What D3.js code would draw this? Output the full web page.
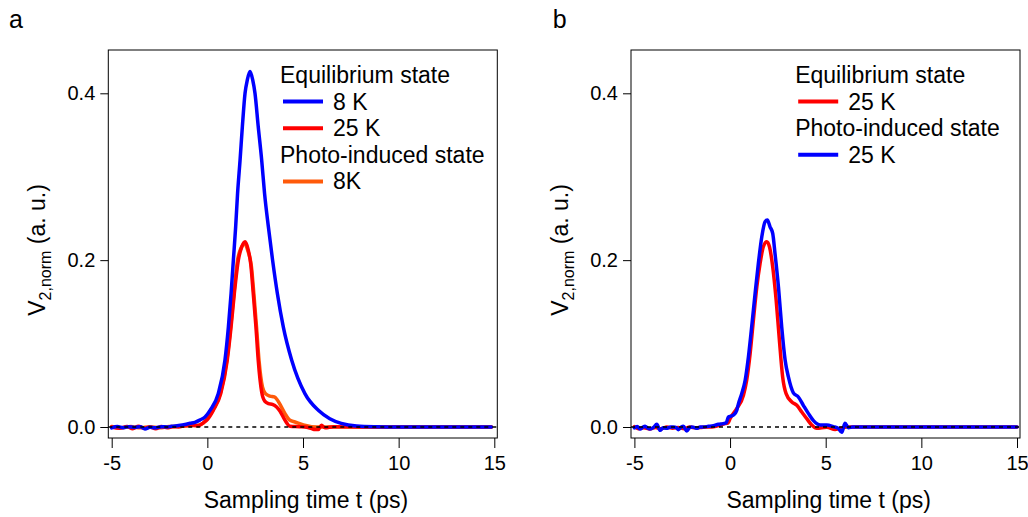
<!DOCTYPE html>
<meta charset="utf-8">
<style>
  body { margin: 0; background: #fff; }
  text { font-family: "Liberation Sans", Arial, sans-serif; fill: #000; }
  .frame { fill: none; stroke: #000; stroke-width: 1px; }
  .axis path { display: none; }
  .axis line { stroke: #000; stroke-width: 1px; }
  .axis text { font-size: 20px; font-family: "Liberation Sans", Arial, sans-serif; }
  .curve { fill: none; stroke-width: 3.5px; stroke-linejoin: round; stroke-linecap: round; }
  .zero { stroke: #000; stroke-width: 1.5px; stroke-dasharray: 4,4; }
</style>
<script src="https://d3js.org/d3.v7.min.js"></script>
<div id="chart"></div>
<script>

// tick values
var xTicks = [-5, 0, 5, 10, 15];
var yTicks = [0, 0.2, 0.4];

// panel a : [time (ps), V2,norm]
var aEq8K = [[-5,-0.001],[-4.7,0.0005],[-4.4,-0.0008],[-4.1,0.0004],[-3.8,-0.0005],[-3.5,0.0003],[-3.26,-0.0024],[-3.0,-0.0004],
  [-2.74,-0.001],[-2.4,0.0004],[-2.1,0],[-1.87,0.0008],[-1.5,0.0018],[-1.17,0.003],[-0.9,0.0044],[-0.65,0.0056],[-0.38,0.0085],
  [-0.12,0.012],[0.14,0.020],[0.57,0.040],[0.92,0.080],[1.10,0.120],[1.24,0.160],[1.36,0.200],[1.48,0.240],[1.58,0.280],
  [1.71,0.320],[1.83,0.360],[1.97,0.400],[2.09,0.416],[2.23,0.426],[2.37,0.416],[2.49,0.400],[2.66,0.360],[2.84,0.320],
  [2.99,0.280],[3.19,0.240],[3.41,0.200],[3.66,0.160],[3.97,0.120],[4.41,0.080],[5.10,0.040],[5.80,0.020],[6.4,0.0100],
  [7.0,0.0044],[7.8,0.0012],[8.8,0.0003],[10,0],[12,0],[14.85,0]];

var aEq25K = [[-5,0],[-4.6,-0.0015],[-4.2,0.0005],[-3.9,-0.002],[-3.6,0.0008],[-3.3,-0.0015],[-3.0,0],[-2.7,-0.002],[-2.4,0.0005],
  [-2.1,-0.001],[-1.8,0.0003],[-1.5,0],[-1.2,0.0015],[-0.8,0.002],[-0.47,0.0015],[-0.21,0.005],[0.0,0.009],[0.31,0.020],[0.70,0.040],
  [1.04,0.080],[1.24,0.120],[1.41,0.160],[1.62,0.200],[1.80,0.216],[1.97,0.222],[2.13,0.213],[2.27,0.195],[2.40,0.160],[2.54,0.120],
  [2.66,0.080],[2.84,0.042],[3.0,0.031],[3.20,0.028],[3.40,0.027],[3.62,0.024],[3.80,0.019],[4.06,0.008],[4.32,0.001],[4.84,0.0004],
  [5.19,-0.0004],[5.45,-0.002],[5.63,-0.003],[5.80,-0.003],[5.97,0.002],[6.15,-0.001],[6.6,0.0003],[8,0],[14.85,0]];

var aPhoto8K = [[-5,0.0005],[-4.5,-0.001],[-4.0,0.0005],[-3.5,-0.001],[-3.0,0.0003],[-2.5,-0.001],[-2.0,0.0005],[-1.5,0.0008],
  [-1.0,0.0015],[-0.5,0.002],[-0.2,0.005],[0.0,0.010],[0.31,0.021],[0.70,0.042],[1.02,0.080],[1.22,0.120],[1.39,0.160],[1.58,0.200],
  [1.75,0.214],[1.93,0.219],[2.12,0.211],[2.30,0.193],[2.43,0.160],[2.57,0.120],[2.70,0.080],[2.88,0.048],[3.04,0.040],[3.27,0.037],
  [3.50,0.036],[3.64,0.033],[3.80,0.027],[4.06,0.016],[4.32,0.008],[4.58,0.006],[5.02,0.0024],[5.45,0.0004],[6,0],[14.85,0]];

// panel b
var bEq25K = [[-5,0.0005],[-4.8,-0.002],[-4.5,-0.001],[-4.2,-0.0025],[-3.9,-0.0005],[-3.6,-0.002],[-3.3,0],[-3.0,-0.0015],
  [-2.7,-0.0005],[-2.4,-0.002],[-2.1,0],[-1.8,-0.001],[-1.5,-0.0005],[-1.2,0],[-0.87,0.0004],[-0.6,0.0016],[-0.35,0.0036],
  [-0.1,0.005],[0.0,0.010],[0.35,0.022],[0.70,0.038],[0.87,0.056],[1.05,0.088],[1.22,0.128],[1.40,0.168],[1.57,0.196],[1.74,0.216],
  [1.92,0.222],[2.06,0.216],[2.23,0.192],[2.41,0.152],[2.58,0.104],[2.75,0.060],[2.93,0.040],[3.23,0.030],[3.49,0.026],[3.75,0.018],
  [4.01,0.010],[4.27,0.0024],[4.53,-0.0016],[5.06,-0.0004],[5.49,-0.003],[5.75,-0.0016],[6.1,0],[15,0]];

var bPhoto25K = [[-5,-0.001],[-4.85,0.0005],[-4.7,-0.0024],[-4.55,0],[-4.44,0.0008],[-4.3,-0.0015],[-4.18,-0.0024],[-4.0,-0.0005],
  [-3.83,0.0032],[-3.66,-0.004],[-3.5,-0.001],[-3.31,-0.0016],[-3.1,0],[-2.96,0],[-2.8,-0.001],[-2.7,-0.0032],[-2.55,0],[-2.44,0.0008],
  [-2.26,-0.0048],[-2.1,-0.0005],[-2.0,0],[-1.85,-0.0008],[-1.74,-0.0016],[-1.55,0],[-1.39,0],[-1.13,0.0008],[-0.87,0.0016],
  [-0.61,0.0032],[-0.35,0.004],[-0.2,0.005],[-0.085,0.012],[0.05,0.013],[0.18,0.0144],[0.35,0.020],[0.44,0.028],[0.61,0.040],
  [0.79,0.056],[0.96,0.084],[1.13,0.120],[1.31,0.160],[1.48,0.196],[1.66,0.228],[1.83,0.246],[1.95,0.248],[2.09,0.240],[2.23,0.232],
  [2.35,0.208],[2.53,0.168],[2.70,0.120],[2.88,0.080],[3.05,0.060],[3.31,0.041],[3.57,0.036],[3.83,0.026],[4.10,0.016],[4.36,0.0076],
  [4.71,0.0024],[5.06,0.0024],[5.40,0.0004],[5.66,-0.0016],[5.84,-0.0064],[6.01,0.0044],[6.19,-0.0008],[6.4,0],[15,0]];

var blue = "#0000ff", red = "#ff0000", orange = "#ff5a0a";

var panels = [
  { letter: "a", dx: 0,
    series: [ { data: aPhoto8K, color: orange }, { data: aEq25K, color: red }, { data: aEq8K, color: blue } ],
    legend: [ { text: "Equilibrium state" }, { text: "8 K", color: blue }, { text: "25 K", color: red },
              { text: "Photo-induced state" }, { text: "8K", color: orange } ],
    legendX: 280 },
  { letter: "b", dx: 522.7,
    series: [ { data: bEq25K, color: red }, { data: bPhoto25K, color: blue } ],
    legend: [ { text: "Equilibrium state" }, { text: "25 K", color: red },
              { text: "Photo-induced state" }, { text: "25 K", color: blue } ],
    legendX: 272.5 }
];

var svg = d3.select("#chart").append("svg")
    .attr("width", 1028)
    .attr("height", 517);

panels.forEach(function(p) {
  var g = svg.append("g").attr("transform", "translate(" + p.dx + ",0)");

  var x = d3.scaleLinear().domain([-5, 15]).range([111.7, 494.3]);
  var y = d3.scaleLinear().domain([0, 0.4]).range([427, 93.3]);

  var line = d3.line()
      .x(function(d) { return x(d[0]); })
      .y(function(d) { return y(d[1]); })
      .curve(d3.curveMonotoneX);

  g.append("g").selectAll("path")
    .data(p.series)
    .enter().append("path")
      .attr("class", "curve")
      .attr("stroke", function(d) { return d.color; })
      .attr("d", function(d) { return line(d.data); });

  // dashed zero line
  g.append("line")
      .attr("class", "zero")
      .attr("x1", 108.3).attr("x2", 497.3)
      .attr("y1", y(0)).attr("y2", y(0));

  // frame
  g.append("rect")
      .attr("class", "frame")
      .attr("x", 108.3).attr("y", 50)
      .attr("width", 389).attr("height", 388);

  g.append("g")
      .attr("class", "axis")
      .attr("transform", "translate(0,438)")
      .call(d3.axisBottom(x).tickValues(xTicks).tickSize(10).tickPadding(8)
            .tickFormat(function(d) { return String(d); }));

  g.append("g")
      .attr("class", "axis")
      .attr("transform", "translate(108.3,0)")
      .call(d3.axisLeft(y).tickValues(yTicks).tickSize(8).tickPadding(5)
            .tickFormat(d3.format(".1f")));

  // axis titles
  g.append("text")
      .attr("x", 306).attr("y", 508)
      .attr("text-anchor", "middle")
      .style("font-size", "23px")
      .text("Sampling time t (ps)");

  var yl = g.append("text")
      .attr("transform", "translate(45,250) rotate(-90)")
      .attr("text-anchor", "middle")
      .style("font-size", "23px");
  yl.append("tspan").text("V");
  yl.append("tspan").attr("dy", 6).style("font-size", "16px").text("2,norm");
  yl.append("tspan").attr("dy", -6).text(" (a. u.)");

  // panel letter
  g.append("text")
      .attr("x", p.letter == "a" ? 9 : 30).attr("y", 28)
      .style("font-size", "25px")
      .text(p.letter);

  // legend
  var lg = g.append("g").attr("transform", "translate(" + p.legendX + ",83)");
  p.legend.forEach(function(item, i) {
    var yy = i * 26.6;
    if (item.color) {
      lg.append("line")
          .attr("x1", 3).attr("x2", 43)
          .attr("y1", yy - 8).attr("y2", yy - 8)
          .attr("stroke", item.color)
          .attr("stroke-width", 4);
      lg.append("text").attr("x", 53).attr("y", yy).style("font-size", "23px").text(item.text);
    } else {
      lg.append("text").attr("x", 0).attr("y", yy).style("font-size", "23px").text(item.text);
    }
  });
});

</script>
